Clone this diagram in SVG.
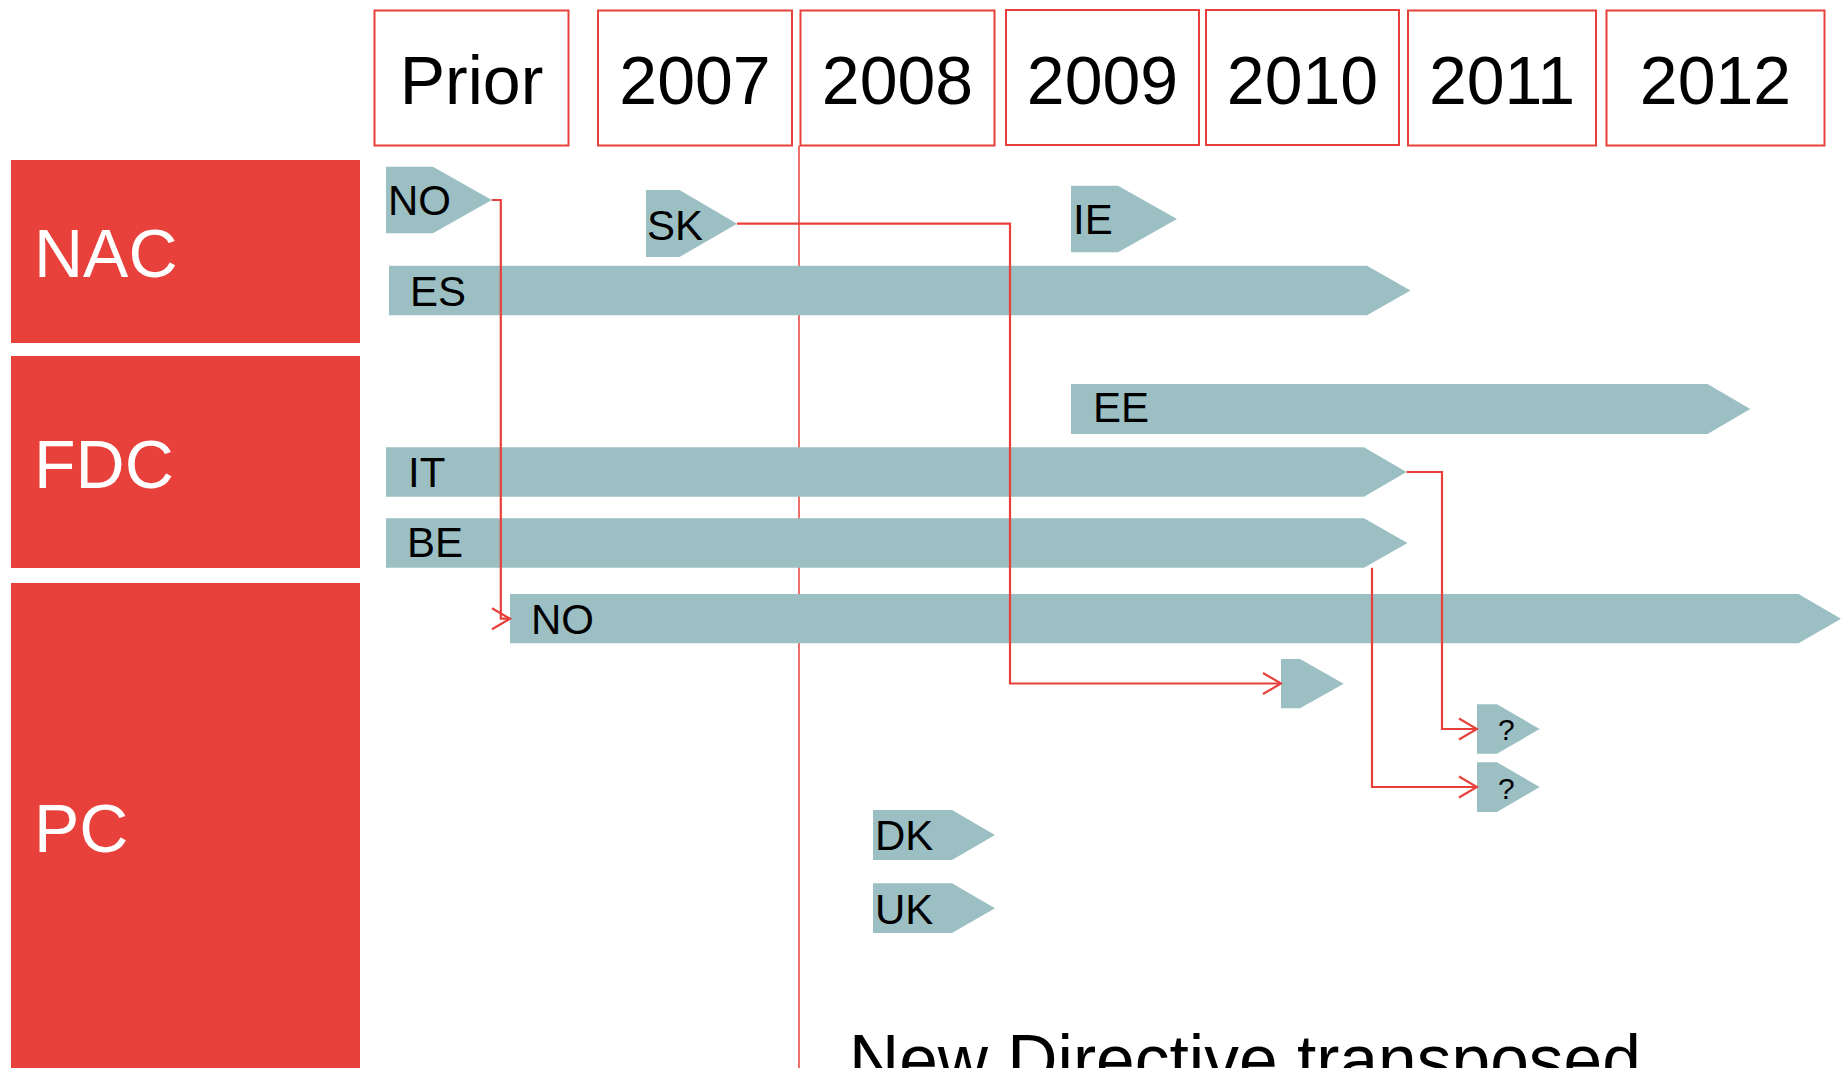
<svg xmlns="http://www.w3.org/2000/svg" width="1841" height="1068" viewBox="0 0 1841 1068">
  <style>
    .year rect { fill: #ffffff; stroke: #E8403A; stroke-width: 2; }
    .year text { font-family: "Liberation Sans", Arial, sans-serif; font-size: 68px; fill: #000000; text-anchor: middle; }
    .cat rect { fill: #E8403A; }
    .cat text { font-family: "Liberation Sans", Arial, sans-serif; font-size: 68px; fill: #ffffff; }
    .bar polygon { fill: #9BBFC3; }
    .bar text { font-family: "Liberation Sans", Arial, sans-serif; font-size: 42px; fill: #000000; }
    .bar text.q { font-size: 30px; }
    .conn { fill: none; stroke: #E8403A; stroke-width: 2.2; }
    .note { font-family: "Liberation Sans", Arial, sans-serif; font-size: 69.5px; fill: #000000; }
  </style>
  <defs>
    <marker id="chev" markerUnits="userSpaceOnUse" viewBox="-20 -12 22 24" markerWidth="22" markerHeight="24" refX="0" refY="0" orient="auto">
      <path d="M-18,-10.5 L0,0 L-18,10.5" fill="none" stroke="#E8403A" stroke-width="2.2"/>
    </marker>
  </defs>

  <rect width="1841" height="1068" fill="#ffffff"/>

  <!-- year header -->
  <g id="year-prior" class="year"><rect x="374.5" y="10.5" width="194" height="135"/><text x="471.5" y="104">Prior</text></g>
  <g id="year-2007" class="year"><rect x="598" y="10.5" width="194" height="135"/><text x="695" y="104">2007</text></g>
  <g id="year-2008" class="year"><rect x="800.5" y="10.5" width="194" height="135"/><text x="897.5" y="104">2008</text></g>
  <g id="year-2009" class="year"><rect x="1006" y="10" width="193" height="135"/><text x="1102.5" y="104">2009</text></g>
  <g id="year-2010" class="year"><rect x="1206" y="10" width="193" height="135"/><text x="1302.5" y="104">2010</text></g>
  <g id="year-2011" class="year"><rect x="1408" y="10.5" width="188" height="135"/><text x="1502" y="104">2011</text></g>
  <g id="year-2012" class="year"><rect x="1606.5" y="10.5" width="218" height="135"/><text x="1715.5" y="104">2012</text></g>

  <!-- category column -->
  <g id="cat-nac" class="cat"><rect x="11" y="160" width="349" height="183"/><text x="34" y="277">NAC</text></g>
  <g id="cat-fdc" class="cat"><rect x="11" y="356" width="349" height="212"/><text x="34" y="488">FDC</text></g>
  <g id="cat-pc" class="cat"><rect x="11" y="583" width="349" height="490"/><text x="34" y="852">PC</text></g>

  <!-- directive transposition line -->
  <line id="directive-line" x1="799" y1="145.5" x2="799" y2="1068" stroke="#E8403A" stroke-width="1.5"/>

  <!-- country bars -->
  <g id="bar-no-nac" class="bar"><polygon points="386,166.7 433,166.7 491.7,200 433,233.3 386,233.3"/><text x="388" y="215">NO</text></g>
  <g id="bar-sk" class="bar"><polygon points="646,190 679.5,190 737,223.7 679.5,257 646,257"/><text x="647" y="240">SK</text></g>
  <g id="bar-ie" class="bar"><polygon points="1071,185.7 1118,185.7 1177,219 1118,252.3 1071,252.3"/><text x="1073" y="234">IE</text></g>
  <g id="bar-es" class="bar"><polygon points="389,265.7 1367,265.7 1410.5,290.5 1367,315.3 389,315.3"/><text x="410" y="306">ES</text></g>
  <g id="bar-ee" class="bar"><polygon points="1071,384 1707.5,384 1750.3,409 1707.5,434 1071,434"/><text x="1093" y="422">EE</text></g>
  <g id="bar-it" class="bar"><polygon points="386,447.3 1364,447.3 1406.5,472 1364,496.7 386,496.7"/><text x="408" y="487">IT</text></g>
  <g id="bar-be" class="bar"><polygon points="386,518.3 1364,518.3 1407.5,543 1364,567.7 386,567.7"/><text x="407" y="557">BE</text></g>
  <g id="bar-no-pc" class="bar"><polygon points="510,594 1798.5,594 1841,618.7 1798.5,643.3 510,643.3"/><text x="531" y="634">NO</text></g>
  <g id="bar-sk-pc" class="bar"><polygon points="1281,659 1300,659 1343.7,683.7 1300,708.3 1281,708.3"/></g>
  <g id="bar-q1" class="bar"><polygon points="1477,704.3 1497,704.3 1539.7,729 1497,753.7 1477,753.7"/><text class="q" x="1498" y="740">?</text></g>
  <g id="bar-q2" class="bar"><polygon points="1477,762.3 1497,762.3 1539.7,787 1497,812 1477,812"/><text class="q" x="1498" y="799">?</text></g>
  <g id="bar-dk" class="bar"><polygon points="873,810 952,810 995,835 952,860 873,860"/><text x="875" y="850">DK</text></g>
  <g id="bar-uk" class="bar"><polygon points="873,883.3 952,883.3 995,908.3 952,933 873,933"/><text x="875" y="924">UK</text></g>

  <!-- connectors -->
  <g id="connectors">
    <path class="conn" d="M491.7,200 H500.8 V618.7 H510" marker-end="url(#chev)"/>
    <path class="conn" d="M737,223.7 H1010 V683.5 H1281" marker-end="url(#chev)"/>
    <path class="conn" d="M1406.5,472 H1442 V729 H1477" marker-end="url(#chev)"/>
    <path class="conn" d="M1372,567.7 V787 H1477" marker-end="url(#chev)"/>
  </g>

  <!-- caption runs past the bottom edge -->
  <text id="note" class="note" x="849" y="1084">New Directive transposed</text>
</svg>
